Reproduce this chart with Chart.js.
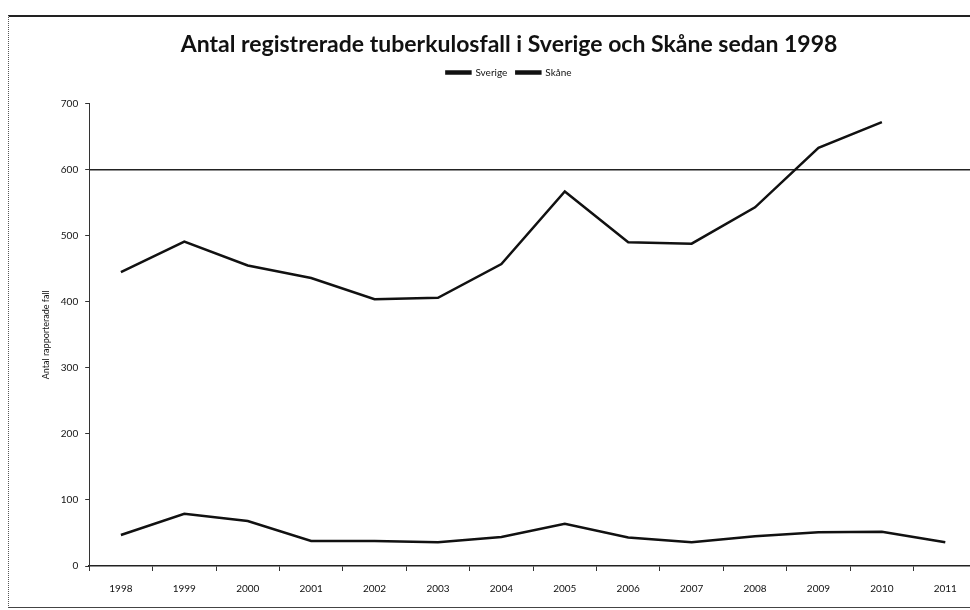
<!DOCTYPE html>
<html><head><meta charset="utf-8">
<script src="https://cdn.jsdelivr.net/npm/chart.js@4/dist/chart.umd.min.js"></script>
<style>
html,body{margin:0;padding:0;background:#fff;overflow:hidden;width:970px;height:610px;}
#frame{position:absolute;left:8px;top:15px;width:1000px;height:590px;border-top:2px solid #222;border-left:1px dotted #555;border-bottom:1px solid #444;}
#wrap{position:absolute;left:0;top:0;width:980px;height:610px;}
</style></head>
<body>
<div id="frame"></div>
<div id="wrap"><canvas id="c"></canvas></div>
<script>
const years = ['1998','1999','2000','2001','2002','2003','2004','2005','2006','2007','2008','2009','2010','2011'];
const sverige = [445,491,455,436,404,406,457,567,490,488,543,633,672,null];
const skane = [47,79,68,38,38,36,44,64,43,36,45,51,52,36];
const yTicks = [0,100,200,300,400,500,600,700];
const markLine = 600;

const font = "Lato, 'Noto Sans', sans-serif";
const legendGap = {
  id:'legendGap',
  beforeInit(chart){
    const fit = chart.legend.fit;
    chart.legend.fit = function(){ fit.bind(chart.legend)(); this.height += 16; };
  }
};
new Chart(document.getElementById('c'), {
  type: 'line',
  data: {
    labels: years,
    datasets: [
      {label:'Sverige', data: sverige, borderColor:'#111', backgroundColor:'#111', borderWidth:2.5, pointRadius:0, tension:0, spanGaps:false},
      {label:'Skåne', data: skane, borderColor:'#111', backgroundColor:'#111', borderWidth:2.5, pointRadius:0, tension:0}
    ]
  },
  options: {
    responsive:true, maintainAspectRatio:false, animation:false,
    layout:{padding:{top:31,right:3,left:41,bottom:3}},
    plugins:{
      title:{display:true, text:'Antal registrerade tuberkulosfall i Sverige och Skåne sedan 1998', color:'#111', font:{family:font,size:23,weight:'bold'}, padding:{top:0,bottom:0}},
      legend:{display:true, labels:{color:'#111', boxWidth:24, boxHeight:2, font:{family:font,size:10}, padding:9}},
      tooltip:{enabled:false}
    },
    scales:{
      x:{type:'category', offset:true,
        grid:{offset:true, drawOnChartArea:false, color:'#333', tickLength:5},
        border:{color:'#222', width:1.5},
        ticks:{color:'#111', font:{family:font,size:10}, padding:12, maxRotation:0}
      },
      y:{min:0, max:700,
        afterBuildTicks:(s)=>{s.ticks = yTicks.map(v=>({value:v}));},
        grid:{drawOnChartArea:false, color:'#333', tickLength:4},
        border:{color:'#333', width:1, dash:[2,1]},
        ticks:{color:'#111', font:{family:font,size:10}, padding:7},
        title:{display:true, text:'Antal rapporterade fall', color:'#111', font:{family:font,size:9}, padding:{top:0,bottom:2}}
      },
      y2:{position:'left', min:0, max:700, display:true,
        afterBuildTicks:(s)=>{s.ticks = [{value:markLine}];},
        grid:{drawOnChartArea:true, drawTicks:false, color:'#222', lineWidth:1.5},
        border:{display:false},
        ticks:{display:false}
      }
    }
  },
  plugins:[legendGap]
});
</script>
</body></html>
